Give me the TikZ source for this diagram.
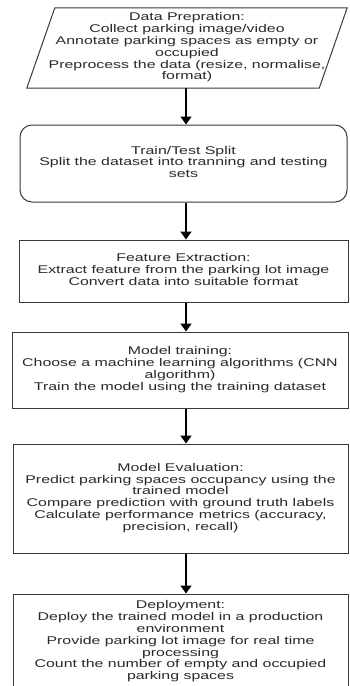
\documentclass[tikz,border=0pt]{standalone}
\usepackage{fontspec}
\setmainfont{Liberation Sans}
\usepackage{graphicx}
\usetikzlibrary{arrows.meta,calc}

\definecolor{boxline}{HTML}{3A3A3A}
\definecolor{inkcol}{HTML}{2A2A2A}

% centred block of lines, set wide as in the flow chart
\newcommand\flowtext[1]{{\fontsize{11.2}{11.8}\selectfont\scalebox{1.42}[1]{\begin{tabular}{@{}c@{}}#1\end{tabular}}}}

\begin{document}
\begin{tikzpicture}[x=1pt,y=-1pt,
  stage/.style={draw=boxline, line width=1pt, inner sep=0pt, text=inkcol, fill=white},
  flowarrow/.style={draw=black, line width=1.4pt, -{Triangle[width=11pt,length=8pt]}}]
\useasboundingbox (0,0) rectangle (349,686);
\fill[white] (0,0) rectangle (349,686);

\coordinate (axis) at (186,0);

% data preparation (parallelogram)
\node[inner sep=0pt, minimum width=292pt, minimum height=80pt, text=inkcol] (prep) at (187,48)
  {\flowtext{Data Prepration:\\Collect parking image/video\\Annotate parking spaces as empty or\\occupied\\Preprocess the data (resize, normalise,\\format)}};
\draw[boxline, line width=1pt]
  ($(prep.north west)+(14,0)$) -- ($(prep.north east)+(14,0)$) --
  ($(prep.south east)+(-14,0)$) -- ($(prep.south west)+(-14,0)$) -- cycle;

\node[stage, rounded corners=12pt, minimum width=327pt, minimum height=77pt] (split) at (183.5,163.5)
  {\flowtext{Train/Test Split\\Split the dataset into tranning and testing\\sets}};

\node[stage, minimum width=329pt, minimum height=62pt] (feat) at (183.5,271)
  {\flowtext{Feature Extraction:\\Extract feature from the parking lot image\\Convert data into suitable format}};

\node[stage, minimum width=336pt, minimum height=76pt] (train) at (180,370)
  {\flowtext{Model training:\\Choose a machine learning algorithms (CNN\\algorithm)\\Train the model using the training dataset}};

\node[stage, minimum width=335pt, minimum height=109pt] (eval) at (180.5,498.5)
  {\flowtext{Model Evaluation:\\Predict parking spaces occupancy using the\\trained model\\Compare prediction with ground truth labels\\Calculate performance metrics (accuracy,\\precision, recall)}};

\node[stage, minimum width=335pt, minimum height=96pt] (deploy) at (180.5,642)
  {\flowtext{Deployment:\\Deploy the trained model in a production\\environment\\Provide parking lot image for real time\\processing\\Count the number of empty and occupied\\parking spaces}};

% connectors
\draw[flowarrow] (prep.south -| axis) -- (split.north -| axis);
\draw[flowarrow] (split.south -| axis) -- (feat.north -| axis);
\draw[flowarrow] (feat.south -| axis) -- (train.north -| axis);
\draw[flowarrow] (train.south -| axis) -- (eval.north -| axis);
\draw[flowarrow] (eval.south -| axis) -- (deploy.north -| axis);
\end{tikzpicture}
\end{document}
